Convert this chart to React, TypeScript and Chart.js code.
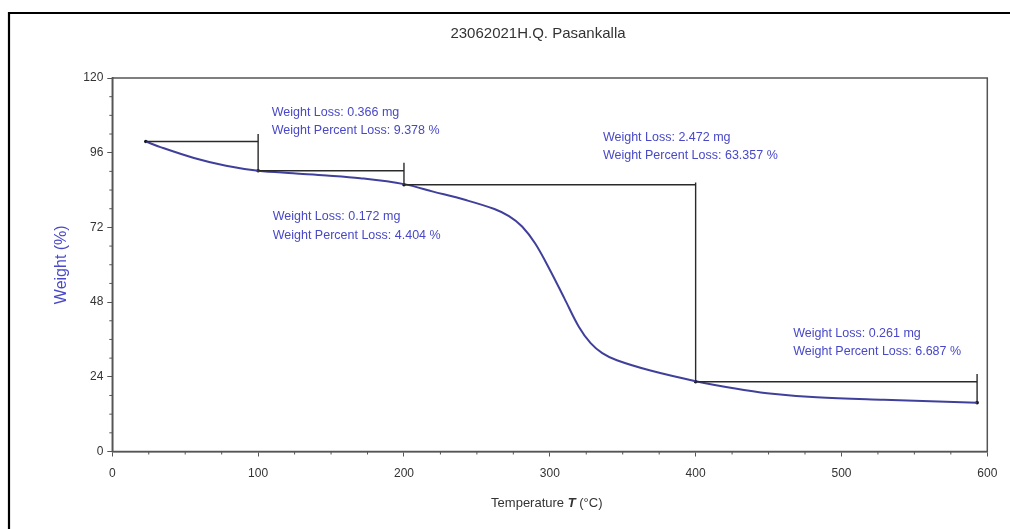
import React, { useEffect, useRef } from "react";
import { Chart, registerables } from "chart.js";

Chart.register(...registerables);

// ---- Data ----
const chartTitle = "23062021H.Q. Pasankalla";
const yAxisTitle = "Weight (%)";
const xTitleParts = ["Temperature ", "T", " (°C)"];

const temperature = [23, 33, 56, 78, 100, 124, 147, 170, 200, 220, 243, 262, 272, 281, 290, 300, 310, 320, 328, 336, 346, 369, 400, 426, 449, 483, 529, 593];
const weight = [99.6, 97.8, 94.3, 91.8, 90.2, 89.4, 88.7, 87.8, 85.9, 83.5, 80.7, 77.9, 75.6, 72.3, 66.8, 58.4, 49.2, 40.0, 34.8, 31.6, 29.3, 26.0, 22.6, 20.3, 18.7, 17.4, 16.6, 15.7];

// step analysis markers
const stepT = [23, 100, 200, 400, 593];
const stepW = [99.6, 90.2, 85.7, 22.4, 15.7];
const stepTop = [102.0, 92.8, 86.4, 24.9];

// annotations: [T, W line1, W line2]
const annoT = [109.3, 110, 336.4, 466.9];
const annoW1 = [108.9, 75.5, 101.0, 37.8];
const annoW2 = [103.1, 69.3, 95.0, 32.0];
const annoLine1 = ["Weight Loss: 0.366 mg", "Weight Loss: 0.172 mg", "Weight Loss: 2.472 mg", "Weight Loss: 0.261 mg"];
const annoLine2 = ["Weight Percent Loss: 9.378 %", "Weight Percent Loss: 4.404 %", "Weight Percent Loss: 63.357 %", "Weight Percent Loss: 6.687 %"];

const xMin = 0, xMax = 600, xStep = 100, xMinorStep = 25;
const yMin = 0, yMax = 120, yStep = 24, yMinorStep = 6;

const BLUE = "#4848c8";
const CURVE = "#40409c";
const AXIS = "#555555";
const TEXT = "#333333";
const FAMILY = "Arial, 'Liberation Sans', sans-serif";

const decorPlugin = {
  id: "decor",
  beforeDraw(chart: any) {
    const ctx = chart.ctx;
    ctx.save();
    ctx.strokeStyle = "#000";
    ctx.lineWidth = 2.2;
    ctx.beginPath();
    ctx.moveTo(9, chart.height + 5);
    ctx.lineTo(9, 13);
    ctx.lineTo(chart.width + 5, 13);
    ctx.stroke();
    ctx.restore();
  },
  afterDraw(chart: any) {
    const ctx = chart.ctx;
    const { left, right, top, bottom } = chart.chartArea;
    const xs = chart.scales.x;
    const ys = chart.scales.y;
    ctx.save();
    // title
    ctx.fillStyle = TEXT;
    ctx.font = "15px " + FAMILY;
    ctx.textAlign = "center";
    ctx.textBaseline = "middle";
    ctx.fillText(chartTitle, 538, 33.5);
    // plot frame
    ctx.strokeStyle = AXIS;
    ctx.lineWidth = 1.5;
    ctx.strokeRect(left, top, right - left, bottom - top);
    // minor ticks
    ctx.lineWidth = 1;
    ctx.beginPath();
    for (let v = xMin + xMinorStep; v < xMax; v += xMinorStep) {
      if (v % xStep === 0) continue;
      const px = xs.getPixelForValue(v);
      ctx.moveTo(px, bottom);
      ctx.lineTo(px, bottom + 3);
    }
    for (let v = yMin + yMinorStep; v < yMax; v += yMinorStep) {
      if (v % yStep === 0) continue;
      const py = ys.getPixelForValue(v);
      ctx.moveTo(left, py);
      ctx.lineTo(left - 3, py);
    }
    ctx.stroke();
    // annotations
    ctx.fillStyle = BLUE;
    ctx.font = "12.5px " + FAMILY;
    ctx.textBaseline = "middle";
    ctx.textAlign = "left";
    for (let i = 0; i < annoT.length; i++) {
      const px = xs.getPixelForValue(annoT[i]);
      ctx.fillText(annoLine1[i], px, ys.getPixelForValue(annoW1[i]));
      ctx.fillText(annoLine2[i], px, ys.getPixelForValue(annoW2[i]));
    }
    // x axis title with italic T
    const fonts = ["13px " + FAMILY, "italic bold 13px " + FAMILY, "13px " + FAMILY];
    let total = 0;
    const widths: number[] = [];
    xTitleParts.forEach((t, i) => {
      ctx.font = fonts[i];
      const w = ctx.measureText(t).width;
      widths.push(w);
      total += w;
    });
    let cx = (left + right) / 2 - 3 - total / 2;
    const cy = 503;
    ctx.fillStyle = TEXT;
    ctx.textBaseline = "middle";
    xTitleParts.forEach((t, i) => {
      ctx.font = fonts[i];
      ctx.fillText(t, cx, cy);
      cx += widths[i];
    });
    ctx.restore();
  },
};

export default function App() {
  const ref = useRef<HTMLCanvasElement | null>(null);
  useEffect(() => {
    if (!ref.current) return;
    const curve = temperature.map((t, i) => ({ x: t, y: weight[i] }));
    const stepSets = [];
    for (let i = 0; i < stepT.length - 1; i++) {
      stepSets.push({
        label: "step" + i,
        data: [
          { x: stepT[i], y: stepW[i] },
          { x: stepT[i + 1], y: stepW[i] },
          { x: stepT[i + 1], y: stepTop[i] },
          { x: stepT[i + 1], y: stepW[i + 1] },
        ],
        borderColor: "#2a2a2a",
        borderWidth: 1.4,
        pointRadius: 0,
        tension: 0,
        fill: false,
      });
    }
    const dots = {
      label: "dots",
      data: stepT.map((t, i) => ({ x: t, y: stepW[i] })),
      showLine: false,
      pointRadius: 1.8,
      pointBackgroundColor: "#111",
      pointBorderWidth: 0,
    };
    const chart = new Chart(ref.current, {
      type: "line",
      data: {
        datasets: [
          ...stepSets,
          {
            label: "Weight",
            data: curve,
            borderColor: CURVE,
            borderWidth: 2,
            pointRadius: 0,
            tension: 0.35,
            fill: false,
          },
          dots,
        ] as any,
      },
      options: {
        animation: false,
        responsive: true,
        maintainAspectRatio: false,
        layout: { padding: { left: 40, right: 22.7, top: 78, bottom: 0 } },
        plugins: {
          legend: { display: false },
          tooltip: { enabled: false },
          title: { display: false },
        },
        scales: {
          x: {
            type: "linear",
            min: xMin,
            max: xMax,
            afterFit: (s: any) => { s.height = 77.5; },
            ticks: {
              stepSize: xStep,
              color: TEXT,
              padding: 9.5,
              font: { size: 12, family: FAMILY },
            },
            grid: { drawOnChartArea: false, drawTicks: true, tickLength: 5, color: AXIS },
            border: { display: true, color: AXIS, width: 1.5 },
            title: { display: false },
          },
          y: {
            type: "linear",
            min: yMin,
            max: yMax,
            afterFit: (s: any) => { s.width = 72.3; },
            ticks: {
              stepSize: yStep,
              color: TEXT,
              padding: 4,
              font: { size: 12, family: FAMILY },
            },
            grid: { drawOnChartArea: false, drawTicks: true, tickLength: 5, color: AXIS },
            border: { display: true, color: AXIS, width: 1.5 },
            title: {
              display: true,
              text: yAxisTitle,
              color: BLUE,
              padding: { top: 12.1, bottom: 0 },
              font: { size: 16, family: FAMILY },
            },
          },
        },
      },
      plugins: [decorPlugin],
    });
    return () => chart.destroy();
  }, []);
  return (
    <div style={{ position: "absolute", left: 0, top: 0, width: 1010, height: 529, background: "#fff" }}>
      <canvas ref={ref} />
    </div>
  );
}
